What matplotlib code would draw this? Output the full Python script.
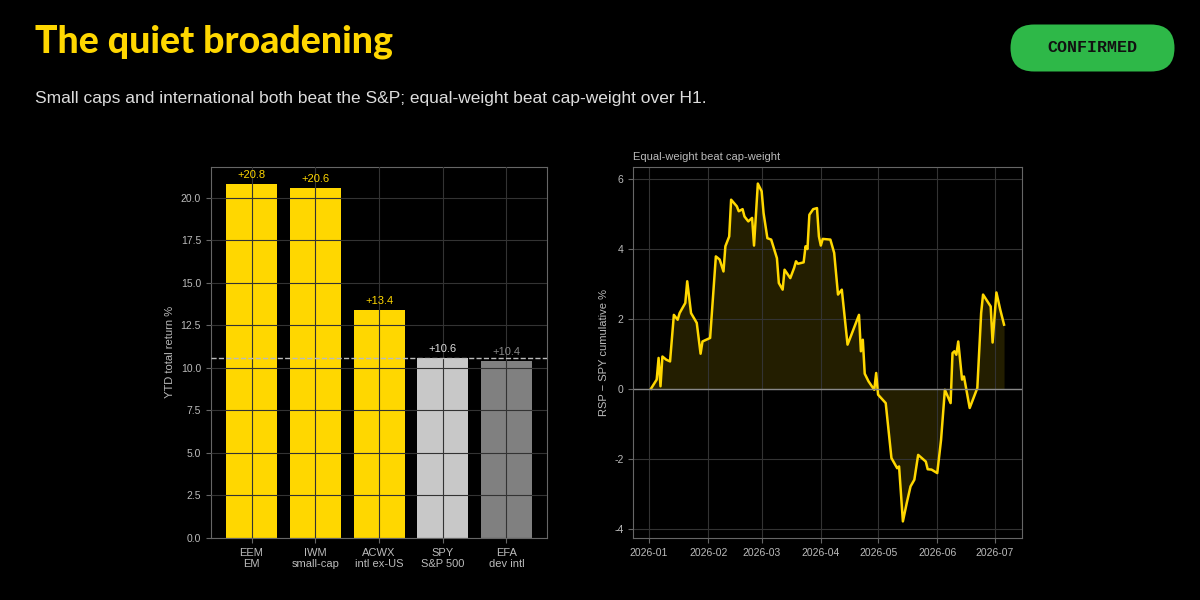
import numpy as np
import pandas as pd
import matplotlib
matplotlib.use("Agg")
import matplotlib.pyplot as plt
import matplotlib.dates as mdates
from matplotlib.patches import FancyBboxPatch

plt.rcParams['font.family'] = ['Liberation Sans', 'DejaVu Sans']
plt.rcParams['axes.unicode_minus'] = False

# left panel: YTD total return by fund
tickers = ['EEM', 'IWM', 'ACWX', 'SPY', 'EFA']
descs = ['EM', 'small-cap', 'intl ex-US', 'S&P 500', 'dev intl']
ytd_returns = [20.8, 20.6, 13.4, 10.6, 10.4]
spy_ref = 10.6

# right panel: RSP - SPY cumulative spread, days counted from 2026-01-01
spread_days = [1, 4, 5, 6, 7, 9, 11, 13, 15, 16, 19, 20, 22, 25, 27, 28, 32, 35, 37, 39,
               40, 42, 43, 46, 47, 49, 50, 52, 54, 55, 57, 59, 60, 62, 64, 67, 68, 70, 71, 74,
               76, 77, 78, 81, 82, 83, 84, 86, 88, 89, 90, 91, 95, 97, 99, 101, 104, 106, 110, 111,
               112, 113, 115, 118, 119, 120, 124, 127, 130, 131, 133, 135, 137, 139, 141, 145, 146, 148, 151, 153,
               155, 158, 159, 160, 161, 162, 164, 165, 168, 172, 174, 175, 179, 180, 182, 184, 186]
spread_vals = [0.00, 0.26, 0.88, 0.07, 0.92, 0.83, 0.78, 2.11, 1.97, 2.16, 2.45, 3.07, 2.16, 1.88, 1.00, 1.35, 1.45, 3.78, 3.69, 3.35,
               4.07, 4.35, 5.40, 5.21, 5.07, 5.13, 4.92, 4.78, 4.88, 4.09, 5.86, 5.64, 5.02, 4.30, 4.26, 3.73, 3.02, 2.83, 3.40, 3.16,
               3.45, 3.64, 3.57, 3.61, 4.07, 3.99, 4.97, 5.13, 5.16, 4.35, 4.09, 4.28, 4.26, 3.88, 2.69, 2.83, 1.26, 1.54, 2.11, 1.07,
               1.40, 0.43, 0.21, -0.03, 0.45, -0.17, -0.41, -1.98, -2.27, -2.22, -3.79, -3.27, -2.79, -2.60, -1.89, -2.08, -2.30, -2.31, -2.41, -1.46,
               -0.03, -0.41, 1.02, 1.07, 0.97, 1.35, 0.26, 0.35, -0.55, 0.02, 2.16, 2.69, 2.35, 1.32, 2.75, 2.26, 1.83]

GOLD = '#ffd700'
TXT = '#bbbbbb'
GRID = '#333333'
SPINE = '#666666'

bar_colors = [GOLD, GOLD, GOLD, '#c8c8c8', '#808080']
label_colors = [GOLD, GOLD, GOLD, '#dddddd', '#888888']

dates = pd.Timestamp('2026-01-01') + pd.to_timedelta(spread_days, unit='D')

fig = plt.figure(figsize=(12, 6), dpi=100, facecolor='black')

# header
fig.text(35 / 1200, 1 - 42 / 600, 'The quiet broadening', color=GOLD, fontsize=27,
         fontweight='black', family=['Lato', 'DejaVu Sans'], va='center', ha='left')
fig.text(35 / 1200, 1 - 98 / 600,
         'Small caps and international both beat the S&P; equal-weight beat cap-weight over H1.',
         color='#dddddd', fontsize=12.5, va='center', ha='left')

# status pill
bax = fig.add_axes([1010 / 1200, 1 - 72 / 600, 165 / 1200, 48 / 600])
bax.set_xlim(0, 165)
bax.set_ylim(0, 48)
bax.axis('off')
bax.add_patch(FancyBboxPatch((0.5, 0.5), 164, 47, boxstyle='round,pad=0,rounding_size=23.5',
                             facecolor='#2eb848', edgecolor='none'))
bax.text(82.5, 24, 'CONFIRMED', family=['Liberation Mono', 'DejaVu Sans Mono'], fontweight='bold',
         fontsize=12, color='#111111', ha='center', va='center')


def style_ax(ax):
    ax.set_facecolor('black')
    for s in ax.spines.values():
        s.set_color(SPINE)
    ax.tick_params(colors=SPINE, labelcolor=TXT, labelsize=7.5, length=3.5)
    ax.grid(True, color=GRID, linewidth=0.8)


# left: bars
ax1 = fig.add_axes([210.7 / 1200, 1 - 538 / 600, (547.3 - 210.7) / 1200, (538 - 166.7) / 600])
style_ax(ax1)
x = np.arange(len(tickers))
ax1.bar(x, ytd_returns, 0.8, color=bar_colors, zorder=1)
ax1.set_axisbelow(False)
for xi, v, c in zip(x, ytd_returns, label_colors):
    ax1.text(xi, v + 0.25, f'+{v:.1f}', color=c, fontsize=8, ha='center', va='bottom')
ax1.axhline(spy_ref, color='#bbbbbb', linestyle='--', linewidth=1, zorder=3)
ax1.set_xticks(x)
ax1.set_xticklabels([f'{t}\n{d}' for t, d in zip(tickers, descs)], fontsize=8)
ax1.set_ylim(0, max(ytd_returns) * 1.05)
ax1.set_ylabel('YTD total return %', color=TXT, fontsize=8)

# right: spread line
ax2 = fig.add_axes([633.3 / 1200, 1 - 538.3 / 600, (1021.7 - 633.3) / 1200, (538.3 - 166.7) / 600])
style_ax(ax2)
ax2.fill_between(dates, spread_vals, 0, color=GOLD, alpha=0.14, linewidth=0)
ax2.plot(dates, spread_vals, color=GOLD, linewidth=1.8)
ax2.axhline(0, color='#888888', linewidth=1)
ax2.xaxis.set_major_locator(mdates.MonthLocator())
ax2.xaxis.set_major_formatter(mdates.DateFormatter('%Y-%m'))
ax2.set_ylabel('RSP \u2212 SPY cumulative %', color=TXT, fontsize=8)
ax2.set_title('Equal-weight beat cap-weight', loc='left', color=TXT, fontsize=8, pad=5)

fig.savefig('out.png', dpi=100, facecolor='black')
